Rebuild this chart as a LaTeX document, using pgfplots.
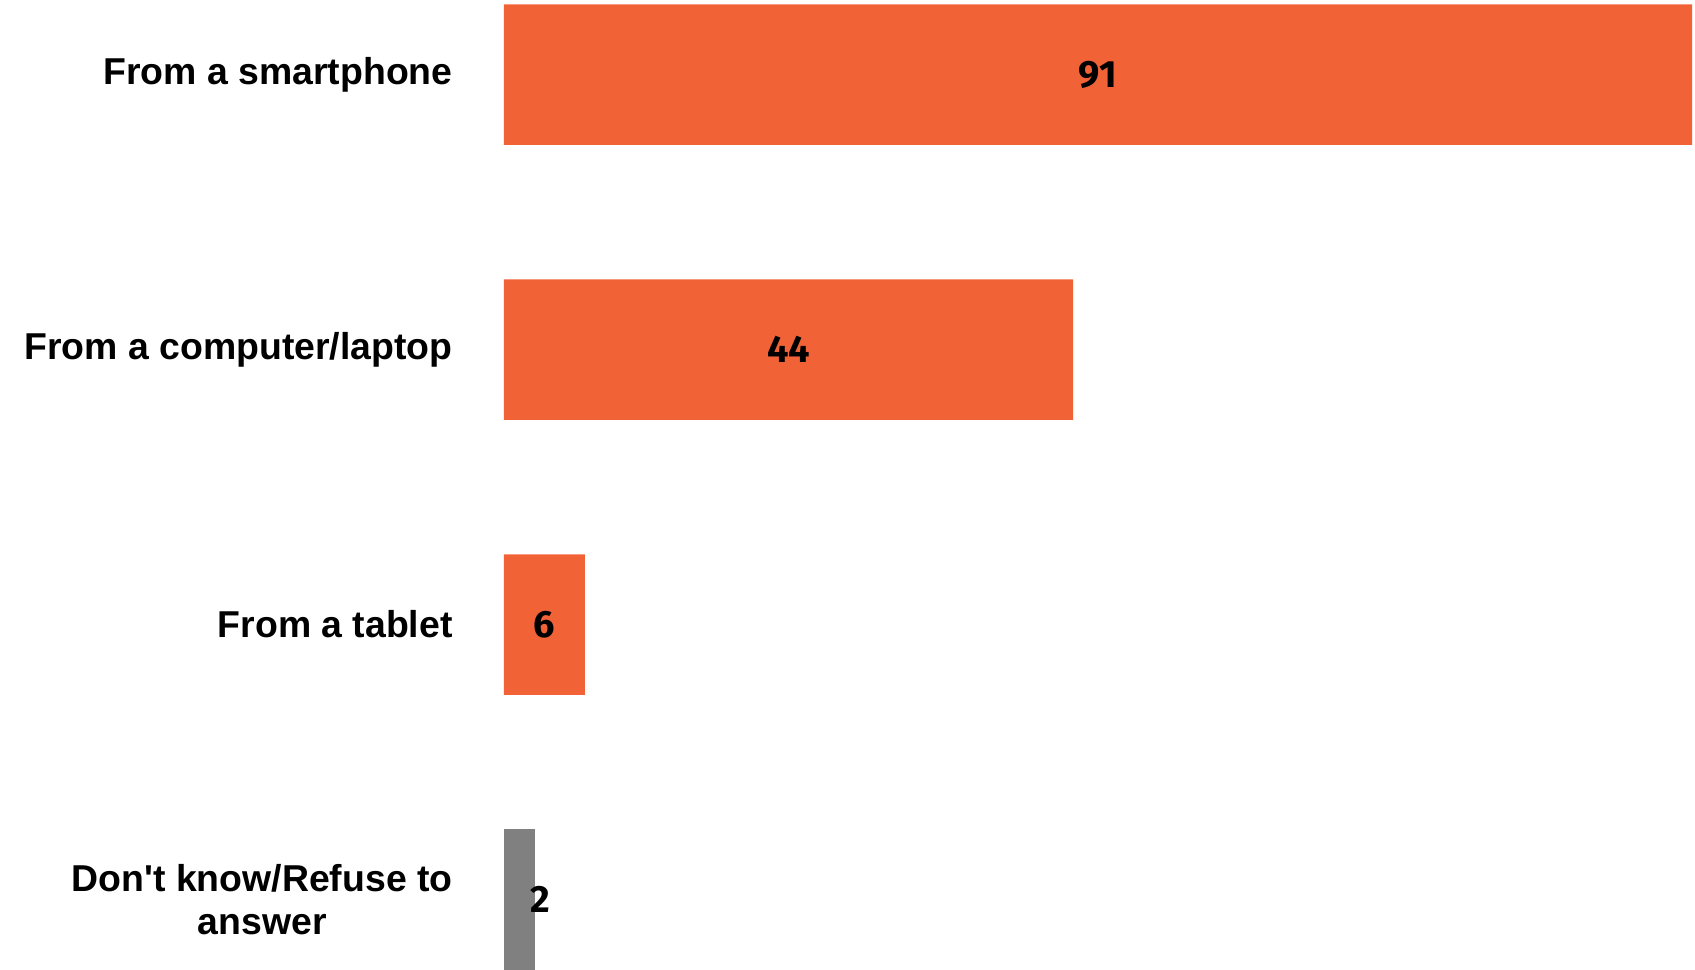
\documentclass[border=0pt]{standalone}
\usepackage{fontspec}
\setmainfont{Liberation Sans}
\newfontfamily\labfont{Liberation Sans}
\newfontfamily\numfont{Fira Sans}
\usepackage{pgfplots}
\pgfplotsset{compat=1.18}
\definecolor{barorange}{HTML}{F26237}
\definecolor{bargray}{HTML}{808080}
\begin{document}
\begin{tikzpicture}
\begin{axis}[
  at={(0,0)}, anchor=south west,
  scale only axis,
  width=594pt, height=484.9pt,
  xmin=0, xmax=91,
  ymin=-0.271, ymax=3.2555,
  y dir=reverse,
  axis line style={draw=none},
  major tick length=0pt,
  xtick=\empty,
  ytick={0,1,2,3},
  yticklabels={From a smartphone,From a computer/laptop,From a tablet,{Don't know/Refuse to\\answer}},
  y tick label style={align=center, anchor=east, inner sep=0pt, xshift=-25.5pt, yshift=0pt,
    font=\fontsize{18.7}{21.6}\selectfont\labfont\bfseries},
  xbar, bar shift=0pt, bar width=0.511,
  point meta=explicit symbolic,
  nodes near coords,
  visualization depends on={rawx \as \rawx},
  nodes near coords style={font=\fontsize{19}{22}\selectfont\numfont\bfseries, text=black, anchor=center, inner sep=0pt},
  clip=false,
]
\addplot[fill=barorange, draw=none,
  every node near coord/.append style={xshift={-\rawx*3.2637pt}}]
  coordinates {(91,0) [91] (43.6,1) [44] (6.2,2) [6]};
\addplot[fill=bargray, draw=none,
  every node near coord/.append style={xshift=2.5pt}]
  coordinates {(2.4,3) [2]};
\end{axis}
\pgfresetboundingbox
\path[use as bounding box] (-252pt,0) rectangle (595.5pt,484.9pt);
\end{tikzpicture}
\end{document}
